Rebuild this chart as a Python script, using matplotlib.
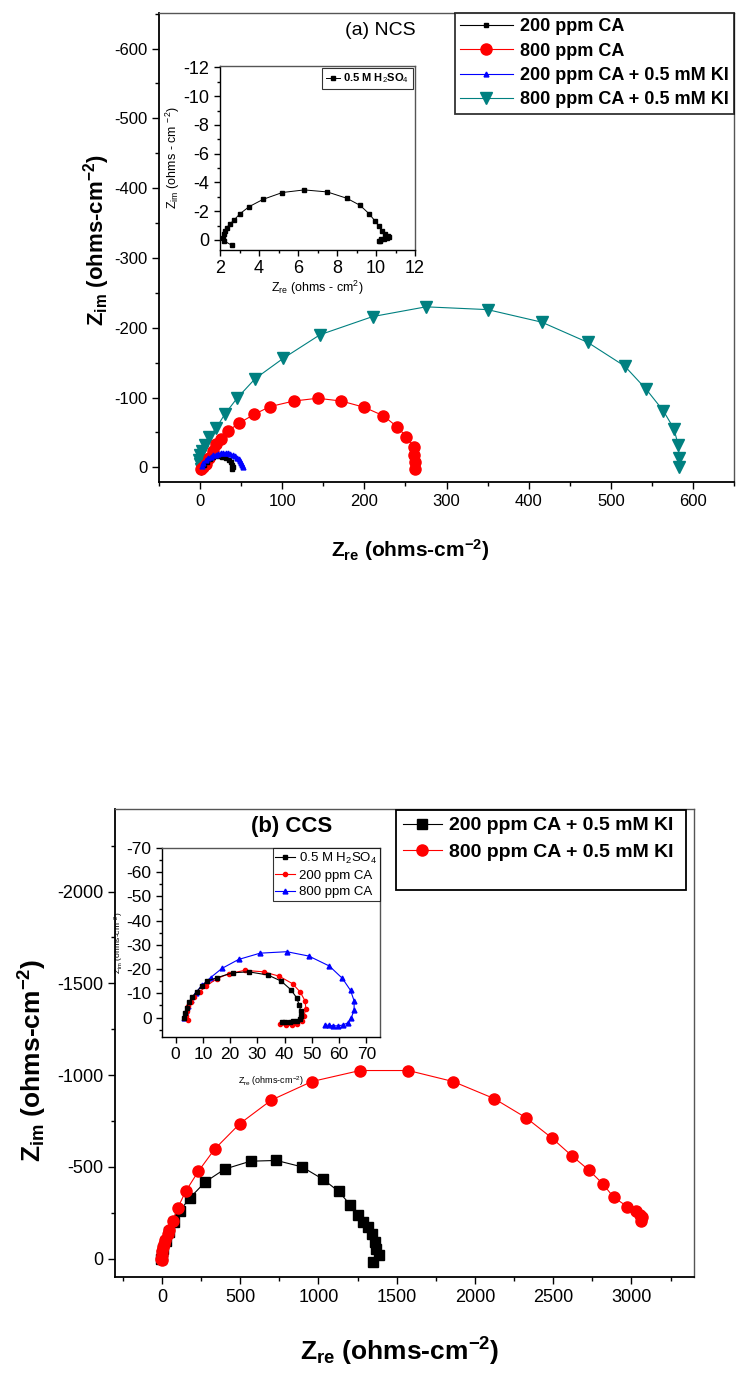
import matplotlib
matplotlib.use("Agg")
import matplotlib.pyplot as plt
from matplotlib.ticker import MultipleLocator
from matplotlib.patches import Rectangle

plt.rcParams['font.family'] = ['Liberation Sans', 'DejaVu Sans']
plt.rcParams['mathtext.fontset'] = 'custom'
plt.rcParams['mathtext.rm'] = 'Liberation Sans'
plt.rcParams['mathtext.it'] = 'Liberation Sans:italic'
plt.rcParams['mathtext.bf'] = 'Liberation Sans:bold'
plt.rcParams['axes.unicode_minus'] = False

# ---------------- (a) NCS main data ----------------
ncs_200_x = [5, 8, 12, 16, 22, 27, 31, 35, 37.5, 39, 39.5, 38.5]
ncs_200_y = [-3, -8, -12, -15, -16, -15.5, -13, -10, -7, -4, -1, 3]

ncs_800_x = [1, 3, 7, 11, 16, 20, 25, 34, 47, 66, 85, 114, 143, 172, 200, 223, 240, 251, 260, 261, 262, 262]
ncs_800_y = [2, 0, -5, -14, -24, -33, -41, -52, -63, -76, -87, -95, -99, -95, -86, -74, -58, -44, -29, -17, -7, 2]

ncs_200ki_x = [2, 4, 7, 10, 13, 16, 19, 22, 25, 28, 31, 34, 37, 40, 43, 45, 47, 49, 50, 51, 52]
ncs_200ki_y = [-2, -6, -10, -13, -15, -17, -18, -19, -20, -20.5, -21, -20.5, -19.5, -18, -16, -14, -12, -9, -6, -3, 0]

ncs_800ki_x = [1, 0, -1, 0, 2, 6, 11, 20, 30, 45, 67, 101, 146, 210, 275, 350, 416, 472, 517, 543, 564, 577, 582, 583.5, 583]
ncs_800ki_y = [2, -5, -10, -17, -24, -32, -43, -57, -76, -99, -127, -156, -190, -216, -230, -226, -208, -179, -145, -112, -81, -55, -32, -14, 0]

# inset (a): 0.5 M H2SO4
ins_a_x = [2.6, 2.22, 2.17, 2.2, 2.26, 2.34, 2.5, 2.73, 3.03, 3.5, 4.22, 5.2, 6.32, 7.5, 8.5,
           9.18, 9.64, 9.93, 10.14, 10.3, 10.46, 10.6, 10.65, 10.55, 10.4, 10.25, 10.15, 10.2]
ins_a_y = [0.37, 0.07, -0.16, -0.4, -0.63, -0.86, -1.1, -1.4, -1.83, -2.32, -2.83, -3.3, -3.48, -3.34, -2.9,
           -2.41, -1.83, -1.35, -0.97, -0.63, -0.4, -0.25, -0.2, -0.15, -0.1, -0.05, 0.05, 0.1]

# ---------------- (b) CCS main data ----------------
ccs_200ki_x = [-6, 0, 9, 24, 45, 75, 114, 181, 277, 401, 566, 732, 895, 1030, 1130, 1202, 1250,
               1286, 1319, 1340, 1361, 1370, 1386, 1349]
ccs_200ki_y = [0, -21, -51, -97, -144, -200, -261, -333, -418, -488, -531, -535, -500, -432, -366, -294, -237,
               -200, -171, -134, -93, -51, -21, 16]

ccs_800ki_x = [3, -3, 0, 3, 9, 15, 21, 36, 45, 69, 102, 151, 232, 337, 497, 699, 958, 1265, 1575,
               1861, 2123, 2328, 2491, 2620, 2726, 2816, 2886, 2973, 3030, 3055, 3069, 3063]
ccs_800ki_y = [10, 0, -21, -41, -62, -82, -103, -134, -154, -206, -278, -366, -475, -597, -735, -864, -965, -1025, -1025,
               -965, -872, -767, -658, -560, -484, -409, -335, -284, -257, -240, -225, -206]

# inset (b)
ins_b_h2so4_x = [3, 3.4, 4, 4.9, 6.1, 7.7, 9.5, 11.6, 15.2, 20.9, 26.8, 33.8, 38.7, 42.4, 44.4, 45.4, 45.9, 45.9,
                 45.7, 44.4, 43.2, 41.8, 40.2, 39]
ins_b_h2so4_y = [0, -2, -4, -6.4, -8.6, -10.6, -13, -15.1, -16.5, -18.5, -18.9, -17.6, -15.1, -11.4, -8.2, -5.1,
                 -2.7, -0.7, 0.7, 1.4, 1.6, 1.8, 1.8, 1.8]
ins_b_200_x = [4.6, 3.7, 4, 4.6, 5.5, 6.7, 8.8, 11.2, 15, 19.5, 25.3, 32.3, 38, 42.9, 45.7, 47.5, 47.8, 47.1,
               46.3, 44.7, 42.6, 40.4, 38.3]
ins_b_200_y = [1, -0.7, -2.7, -4.8, -6.6, -8.6, -10.6, -13, -16, -18.1, -19.5, -18.9, -17.1, -14, -10.6, -6.9,
               -3.7, -0.7, 1.6, 2.7, 3.2, 3.2, 2.7]
ins_b_800_x = [3, 3.4, 3.9, 4.6, 5.7, 7.3, 9.7, 12.8, 17, 23.1, 31, 40.8, 48.9, 56.4, 61.2, 64.2, 65.5, 65.5,
               64.5, 63.3, 61.5, 59.7, 57.8, 56.2, 54.8]
ins_b_800_y = [0, -1.4, -2.7, -4.8, -7.3, -10.3, -13.3, -16.5, -20.3, -24, -26.6, -27.2, -25.4, -21.3, -16.2,
               -11.2, -6.9, -3.2, 0, 2.1, 3, 3.4, 3.4, 3.2, 3]

W, H = 736, 1374
fig = plt.figure(figsize=(W / 100, H / 100), dpi=100)


def rect(l, t, r, b):
    return [l / W, 1 - b / H, (r - l) / W, (b - t) / H]


def style(ax, lw=1.3, lab=12, maj=5, mnr=3):
    for s in ['left', 'bottom']:
        ax.spines[s].set_linewidth(lw)
        ax.spines[s].set_color('black')
    for s in ['top', 'right']:
        ax.spines[s].set_linewidth(1.0)
        ax.spines[s].set_color('#555555')
    ax.tick_params(which='both', direction='out', top=False, right=False, labelsize=lab, width=1.0)
    ax.tick_params(which='major', length=maj)
    ax.tick_params(which='minor', length=mnr)


# ---------------- top main axes ----------------
ax1 = fig.add_axes(rect(159, 13, 734, 482))
ax1.plot(ncs_200_x, ncs_200_y, '-s', color='black', lw=0.8, ms=2.5, label='200 ppm CA', zorder=3)
ax1.plot(ncs_800_x, ncs_800_y, '-o', color='#ff0000', lw=0.8, ms=8, label='800 ppm CA', zorder=2)
ax1.plot(ncs_200ki_x, ncs_200ki_y, '-^', color='#0000ff', lw=0.8, ms=3.5, label='200 ppm CA + 0.5 mM KI', zorder=3)
ax1.plot(ncs_800ki_x, ncs_800ki_y, '-v', color='#008080', lw=0.8, ms=9, label='800 ppm CA + 0.5 mM KI', zorder=1)
ax1.set_xlim(-50, 650)
ax1.set_ylim(21, -651)
ax1.xaxis.set_major_locator(MultipleLocator(100))
ax1.xaxis.set_minor_locator(MultipleLocator(50))
ax1.yaxis.set_major_locator(MultipleLocator(100))
ax1.yaxis.set_minor_locator(MultipleLocator(50))
style(ax1, lab=12)
ax1.text(0.385, 0.962, '(a) NCS', transform=ax1.transAxes, fontsize=14, ha='center', va='center')
leg1 = ax1.legend(loc='upper right', bbox_to_anchor=(1.0, 1.0), prop={'weight': 'bold', 'size': 13},
                  frameon=True, fancybox=False, edgecolor='black', handlelength=2.9, borderpad=0.3,
                  labelspacing=0.4, handletextpad=0.4, borderaxespad=0.0)
leg1.get_frame().set_linewidth(1.3)

fig.text(97 / W, 1 - 240 / H, r'$\mathbf{Z_{im}}$ (ohms-cm$^{\mathbf{-2}}$)', rotation=90,
         fontsize=16, fontweight='bold', ha='center', va='center')
fig.text(410 / W, 1 - 550 / H, r'$\mathbf{Z_{re}}$ (ohms-cm$^{\mathbf{-2}}$)',
         fontsize=15, fontweight='bold', ha='center', va='center')

# ---------------- top inset ----------------
ax1i = fig.add_axes(rect(220, 66, 415, 250))
ax1i.plot(ins_a_x, ins_a_y, '-s', color='black', lw=0.7, ms=2.5, label=r'0.5 M H$_2$SO$_4$')
ax1i.set_xlim(2, 12)
ax1i.set_ylim(0.7, -12.1)
ax1i.xaxis.set_major_locator(MultipleLocator(2))
ax1i.xaxis.set_minor_locator(MultipleLocator(1))
ax1i.yaxis.set_major_locator(MultipleLocator(2))
ax1i.yaxis.set_minor_locator(MultipleLocator(1))
style(ax1i, lw=1.0, lab=13, maj=4, mnr=2)
ax1i.set_xlabel(r'Z$_{\mathrm{re}}$ (ohms - cm$^{2}$)', fontsize=9, labelpad=1)
ax1i.set_ylabel(r'Z$_{\mathrm{im}}$ (ohms - cm $^{-2}$)', fontsize=9, labelpad=1)
leg1i = ax1i.legend(loc='upper right', prop={'weight': 'bold', 'size': 8}, frameon=True, fancybox=False,
                    edgecolor='black', handlelength=1.3, borderpad=0.3, handletextpad=0.3, borderaxespad=0.2)
leg1i.get_frame().set_linewidth(0.8)

# ---------------- bottom main axes ----------------
ax2 = fig.add_axes(rect(115, 809, 694, 1277))
ax2.plot(ccs_200ki_x, ccs_200ki_y, '-s', color='black', lw=0.8, ms=7, label='200 ppm CA + 0.5 mM KI', zorder=2)
ax2.plot(ccs_800ki_x, ccs_800ki_y, '-o', color='#ff0000', lw=0.8, ms=8, label='800 ppm CA + 0.5 mM KI', zorder=3)
ax2.set_xlim(-300, 3400)
ax2.set_ylim(100, -2450)
ax2.xaxis.set_major_locator(MultipleLocator(500))
ax2.xaxis.set_minor_locator(MultipleLocator(250))
ax2.yaxis.set_major_locator(MultipleLocator(500))
ax2.yaxis.set_minor_locator(MultipleLocator(250))
style(ax2, lab=13)
ax2.text(0.305, 0.962, '(b) CCS', transform=ax2.transAxes, fontsize=16, fontweight='bold', ha='center', va='center')
leg2 = ax2.legend(loc='upper left', bbox_to_anchor=((399 - 115) / (694 - 115), 1.0 - 4 / 468),
                  prop={'weight': 'bold', 'size': 14},
                  frameon=False, handlelength=2.0, borderpad=0.2,
                  labelspacing=0.45, handletextpad=0.35, borderaxespad=0.0)
fig.add_artist(Rectangle((396 / W, 1 - 890 / H), (686 - 396) / W, (890 - 810) / H,
                         transform=fig.transFigure, fill=False, edgecolor='black', linewidth=1.3))

fig.text(33 / W, 1 - 1060 / H, r'$\mathbf{Z_{im}}$ (ohms-cm$^{\mathbf{-2}}$)', rotation=90,
         fontsize=19, fontweight='bold', ha='center', va='center')
fig.text(400 / W, 1 - 1352 / H, r'$\mathbf{Z_{re}}$ (ohms-cm$^{\mathbf{-2}}$)',
         fontsize=19, fontweight='bold', ha='center', va='center')

# ---------------- bottom inset ----------------
ax2i = fig.add_axes(rect(162, 848, 380, 1037))
ax2i.plot(ins_b_h2so4_x, ins_b_h2so4_y, '-s', color='black', lw=0.8, ms=3, label=r'0.5 M H$_2$SO$_4$', zorder=3)
ax2i.plot(ins_b_200_x, ins_b_200_y, '-o', color='#ff0000', lw=0.8, ms=3, label='200 ppm CA', zorder=2)
ax2i.plot(ins_b_800_x, ins_b_800_y, '-^', color='#0000ff', lw=0.8, ms=3.5, label='800 ppm CA', zorder=1)
ax2i.set_xlim(-5, 75)
ax2i.set_ylim(8, -70)
ax2i.xaxis.set_major_locator(MultipleLocator(10))
ax2i.yaxis.set_major_locator(MultipleLocator(10))
ax2i.yaxis.set_minor_locator(MultipleLocator(5))
style(ax2i, lw=1.0, lab=12.5, maj=4, mnr=2)
ax2i.set_ylabel(r'Z$_{\mathrm{im}}$ (ohms-cm$^{-2}$)', fontsize=6, labelpad=0)
fig.text(271 / W, 1 - 1081 / H, r'Z$_{\mathrm{re}}$ (ohms-cm$^{-2}$)', fontsize=6.5, ha='center', va='center')
leg2i = ax2i.legend(loc='upper right', prop={'size': 9.5}, frameon=True, fancybox=False,
                    edgecolor='black', handlelength=1.5, borderpad=0.2, labelspacing=0.3,
                    handletextpad=0.3, borderaxespad=0.0)
leg2i.get_frame().set_linewidth(0.8)

fig.savefig('out.png', dpi=100)
